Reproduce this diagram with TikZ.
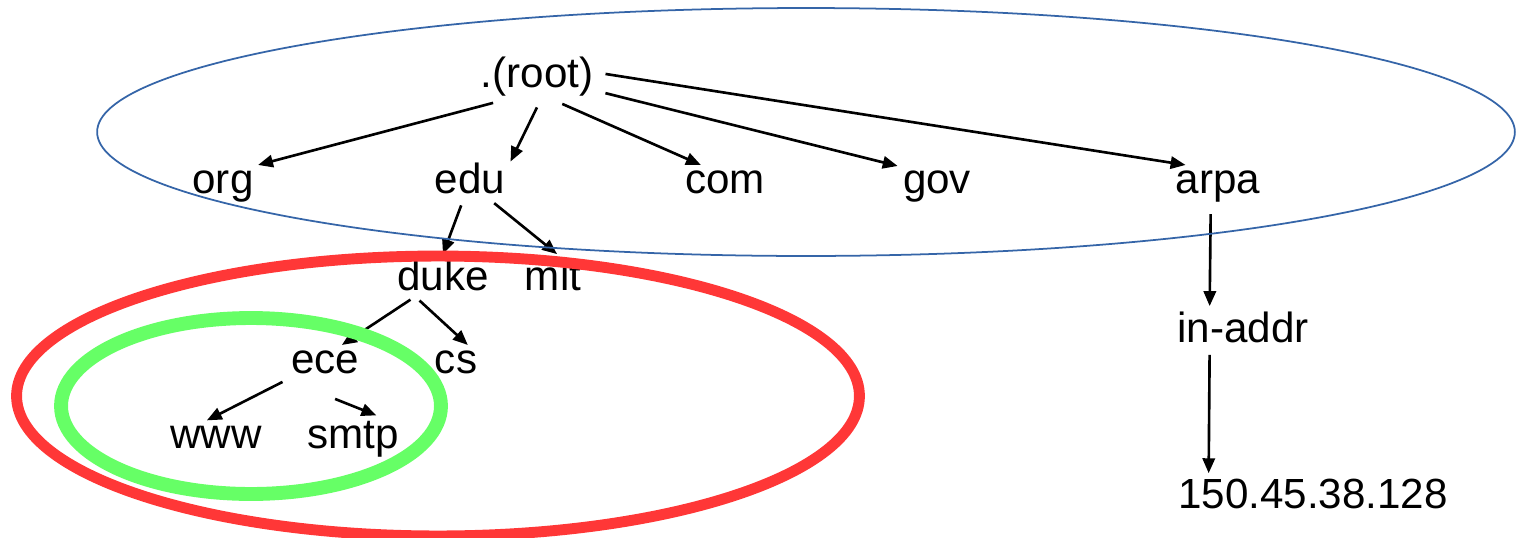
\documentclass[tikz,border=0pt]{standalone}
\usepackage{fontspec}
\setmainfont{Liberation Sans}
\usetikzlibrary{arrows.meta}
\definecolor{zoneblue}{HTML}{3565A8}
\definecolor{zonered}{HTML}{FF3737}
\definecolor{zonegreen}{HTML}{66FF66}

\begin{document}
\begin{tikzpicture}[x=0.02cm,y=-0.02cm,
		dom/.style={font=\fontsize{24}{28}\selectfont,anchor=base,inner sep=0.1cm},
		arr/.style={-{Triangle[length=8.5pt,width=7pt]},line width=1.5pt,shorten <=4pt},
		zone/.style={line width=#1}]
		\useasboundingbox (0,0) rectangle (1516,538);
		\node[dom] (root) at (537,87) {.(root)};
		\node[dom] (org) at (223,193) {org};
		\node[dom] (edu) at (470,193) {edu};
		\node[dom] (com) at (725,193) {com};
		\node[dom] (gov) at (937,193) {gov};
		\node[dom] (arpa) at (1218,193) {arpa};
		\node[dom] (duke) at (443,290) {duke};
		\node[dom] (mit) at (553,290) {mit};
		\node[dom] (ece) at (325,373) {ece};
		\node[dom] (cs) at (456,373) {cs};
		\node[dom] (www) at (216,448) {www};
		\node[dom] (smtp) at (353,448) {smtp};
		\node[dom] (inaddr) at (1243,342) {in-addr};
		\node[dom] (ip) at (1313,508) {150.45.38.128};
		\draw[arr] (root.214) -- (org.31);
		\draw[arr] (root.277) -- (edu.22);
		\draw[arr] (root.307) -- (com.145);
		\draw[arr] (root.346) -- (gov.153);
		\draw[arr] (root.3) -- (arpa.147);
		\draw[arr] (edu.253) -- (duke.90);
		\draw[arr] (edu.312) -- (mit.79);
		\draw[arr] (duke.218) -- (ece.45);
		\draw[arr] (duke.216) -- (cs.55);
		\draw[arr] (ece.205) -- (www.119);
		\draw[arr] ([yshift=-10pt]ece.282) -- (smtp.45);
		\draw[arr] (arpa.251) -- (inaddr.148);
		\draw[arr] (inaddr.212) -- (ip.169);
		\draw[zone=1pt,zoneblue] (806,132) ellipse [x radius=14.18cm,y radius=2.48cm];
		\draw[zone=6.2pt,zonered] (438,396) ellipse [x radius=8.43cm,y radius=2.8cm];
		\draw[zone=7.9pt,zonegreen] (251,406) ellipse [x radius=3.8cm,y radius=1.76cm];
	\end{tikzpicture}
\end{document}
